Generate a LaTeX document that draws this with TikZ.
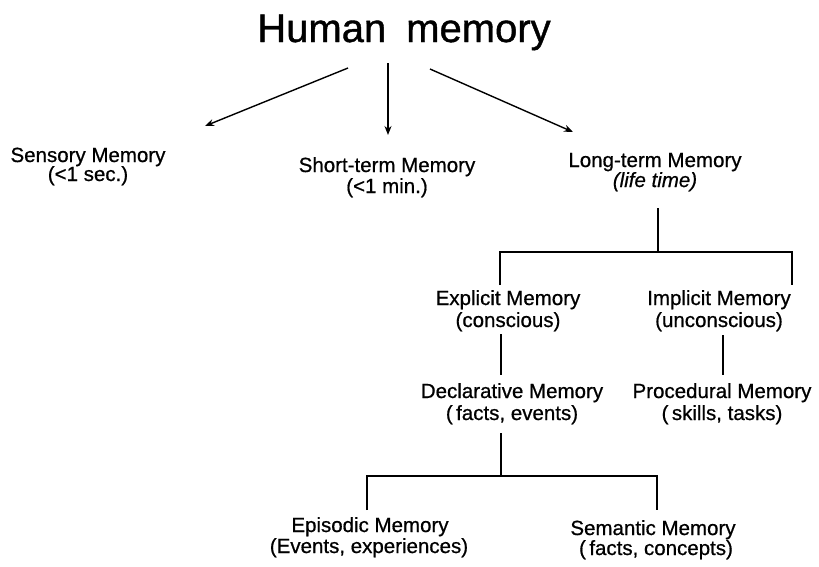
\documentclass[tikz,border=0pt]{standalone}
\usepackage{fontspec}
\setmainfont{Liberation Sans}
\newfontfamily\lblfont[FakeBold=0.7]{Liberation Sans}
\newfontfamily\lblitfont[FakeBold=0.7]{Liberation Sans Italic}
\newfontfamily\ttlfont[FakeBold=1.0]{Liberation Sans}
\usetikzlibrary{arrows.meta}
\begin{document}
\begin{tikzpicture}[x=1pt,y=-1pt,
  lbl/.style={inner sep=0pt, anchor=base, font=\lblfont\fontsize{20.5}{24}\selectfont},
  ttl/.style={inner sep=0pt, anchor=base, font=\ttlfont\fontsize{40}{48}\selectfont},
  arr/.style={line width=1.4pt, -{Stealth[length=9pt,width=7pt]}},
  ln/.style={line width=1.4pt}]
\useasboundingbox (0,0) rectangle (819,566);

% title
\node[ttl] (title) at (404,42) {Human\hspace{0.5em}memory};

% top row
\node[lbl] (sens) at (88,162) {Sensory Memory};
\node[lbl] (sens2) at (88,181) {(<1 sec.)};
\node[lbl] (stm) at (387,172) {Short-term Memory};
\node[lbl] (stm2) at (387,193) {(<1 min.)};
\node[lbl] (ltm) at (655,167) {Long-term Memory};
\node[lbl] (ltm2) at (655,187) {\lblitfont (life time)};

% arrows
\coordinate (aLs) at (348,68);  \coordinate (aLe) at (205,126);
\coordinate (aMs) at (388,63);  \coordinate (aMe) at (388,135);
\coordinate (aRs) at (430,69);  \coordinate (aRe) at (573,132);
\draw[arr] (aLs) -- (aLe);
\draw[arr] (aMs) -- (aMe);
\draw[arr] (aRs) -- (aRe);

% middle rows
\node[lbl] (exp) at (508,305) {Explicit Memory};
\node[lbl] (exp2) at (508,327) {(conscious)};
\node[lbl] (imp) at (719,305) {Implicit Memory};
\node[lbl] (imp2) at (719,327) {(unconscious)};
\node[lbl] (dec) at (512,398) {Declarative Memory};
\node[lbl] (dec2) at (512,420) {(\,facts, events)};
\node[lbl] (pro) at (722,398) {Procedural Memory};
\node[lbl] (pro2) at (722,420) {(\,skills, tasks)};

% bottom row
\node[lbl] (epi) at (370,532) {Episodic Memory};
\node[lbl] (epi2) at (369,553) {(Events, experiences)};
\node[lbl] (sem) at (653,535) {Semantic Memory};
\node[lbl] (sem2) at (656,555) {(\,facts, concepts)};

% tree under long-term memory
\coordinate (t1) at (658,208);
\coordinate (t2) at (658,252);
\coordinate (hL) at (500,252);
\coordinate (hR) at (792,252);
\coordinate (dL) at (500,285);
\coordinate (dR) at (792,285);
\draw[ln] (t1) -- (t2);
\draw[ln] (dL) -- (hL) -- (hR) -- (dR);

\coordinate (e1) at (501,334);
\coordinate (e2) at (501,375);
\draw[ln] (e1) -- (e2);
\coordinate (i1) at (723,335);
\coordinate (i2) at (723,375);
\draw[ln] (i1) -- (i2);

\coordinate (d1) at (501,433);
\coordinate (d2) at (501,476);
\coordinate (bL) at (367,476);
\coordinate (bR) at (657,476);
\coordinate (bLd) at (367,510);
\coordinate (bRd) at (657,510);
\draw[ln] (d1) -- (d2);
\draw[ln] (bLd) -- (bL) -- (bR) -- (bRd);
\end{tikzpicture}
\end{document}
